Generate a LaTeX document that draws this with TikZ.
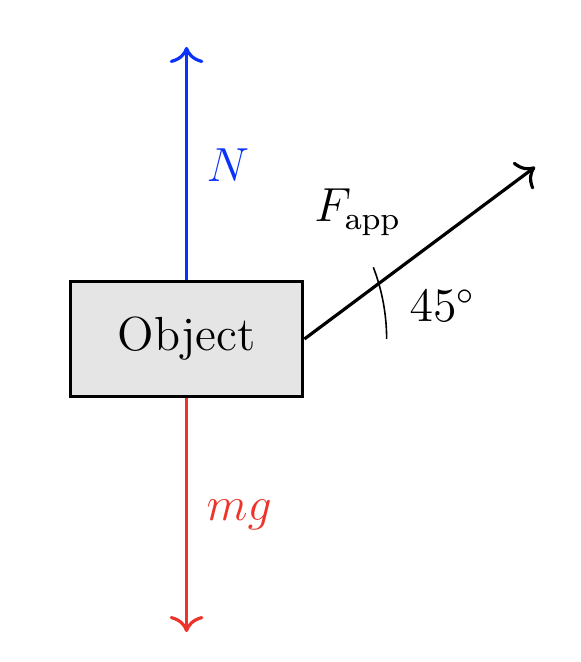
\documentclass[tikz,border=0pt]{standalone}
\usetikzlibrary{calc,arrows.meta}
\definecolor{forceblue}{RGB}{10,50,250}
\definecolor{forcered}{RGB}{238,52,42}
\tikzset{
  objbox/.style={draw=black, thick, fill=black!10, minimum width=2.05cm, minimum height=1.02cm, inner sep=0pt, font=\large},
  force/.style={-{To[scale=1.2]}, thick},
  lbl/.style={inner sep=0pt, anchor=base west, font=\large},
}
\begin{document}
\begin{tikzpicture}
\useasboundingbox (-1.645,-2.848) rectangle (3.470,2.989);
\node[objbox] (obj) at (0,0) {Object};
\coordinate (ntip) at (0,2.575);
\coordinate (gtip) at (0,-2.584);
\coordinate (ftip) at (3.073,1.517);
\draw[force, forceblue] (obj.north) -- (ntip);
\draw[force, forcered] (obj.south) -- (gtip);
\draw[force, black] (obj.east) -- (ftip);
\draw[thin] (1.764,0) arc[start angle=0, end angle=21, radius=1.764];
\node[lbl, text=forceblue] (nlbl) at (0.17,1.387) {$N$};
\node[lbl, text=forcered] (mglbl) at (0.17,-1.596) {$mg$};
\node[lbl] (flbl) at (1.12,1.032) {$F_{\mathrm{app}}$};
\node[lbl] (alab) at (1.96,0.15) {$45^\circ$};
\end{tikzpicture}
\end{document}
